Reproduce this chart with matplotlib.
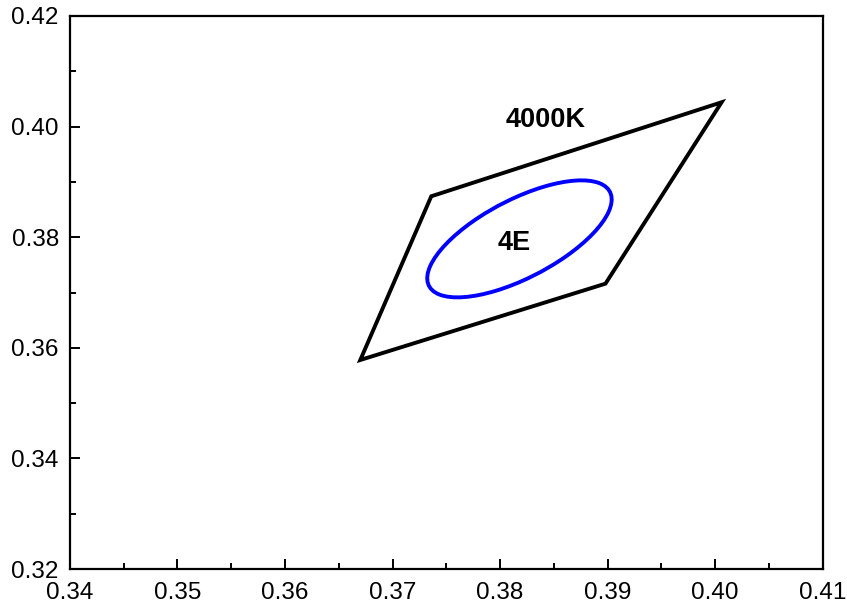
import matplotlib
matplotlib.use("Agg")
import matplotlib.pyplot as plt
from matplotlib.patches import Ellipse, Polygon
from matplotlib.ticker import MultipleLocator

plt.rcParams["font.family"] = ["Liberation Sans", "DejaVu Sans"]

# 4000K ANSI quadrangle corners (CIE x, y)
quad_x = [0.3670, 0.3736, 0.4006, 0.3898]
quad_y = [0.3578, 0.3874, 0.4044, 0.3716]

# 4-step MacAdam ellipse: center, semi-axes, rotation (deg)
ell_center = (0.3818, 0.3797)
ell_a = 0.01252
ell_b = 0.00536
ell_theta = 53.72

labels = ["4000K", "4E"]
label_pos = [(0.3842, 0.4012), (0.3813, 0.3790)]

fig = plt.figure(figsize=(8.47, 6.08), dpi=100)
ax = fig.add_axes([0.0826, 0.0641, 0.8887, 0.9096])

ax.add_patch(Polygon(list(zip(quad_x, quad_y)), closed=True, fill=False,
                     edgecolor="black", linewidth=2.8, joinstyle="miter"))
ax.add_patch(Ellipse(ell_center, 2 * ell_a, 2 * ell_b, angle=ell_theta,
                     fill=False, edgecolor="#0000ff", linewidth=2.8))

for txt, (tx, ty) in zip(labels, label_pos):
    ax.text(tx, ty, txt, ha="center", va="center", fontsize=19.5,
            fontweight="bold", color="black")

ax.set_xlim(0.34, 0.41)
ax.set_ylim(0.32, 0.42)
ax.xaxis.set_major_locator(MultipleLocator(0.01))
ax.xaxis.set_minor_locator(MultipleLocator(0.005))
ax.yaxis.set_major_locator(MultipleLocator(0.02))
ax.yaxis.set_minor_locator(MultipleLocator(0.01))
ax.xaxis.set_major_formatter(plt.FormatStrFormatter("%.2f"))
ax.yaxis.set_major_formatter(plt.FormatStrFormatter("%.2f"))

ax.tick_params(which="major", direction="in", length=7.5, width=1.4,
               labelsize=17.5, top=False, right=False)
ax.tick_params(which="minor", direction="in", length=4, width=1.4,
               top=False, right=False)
ax.tick_params(axis="x", which="major", pad=9)
ax.tick_params(axis="y", which="major", pad=8)
for spine in ax.spines.values():
    spine.set_linewidth(1.6)

fig.savefig("out.png", dpi=100, facecolor="white")
